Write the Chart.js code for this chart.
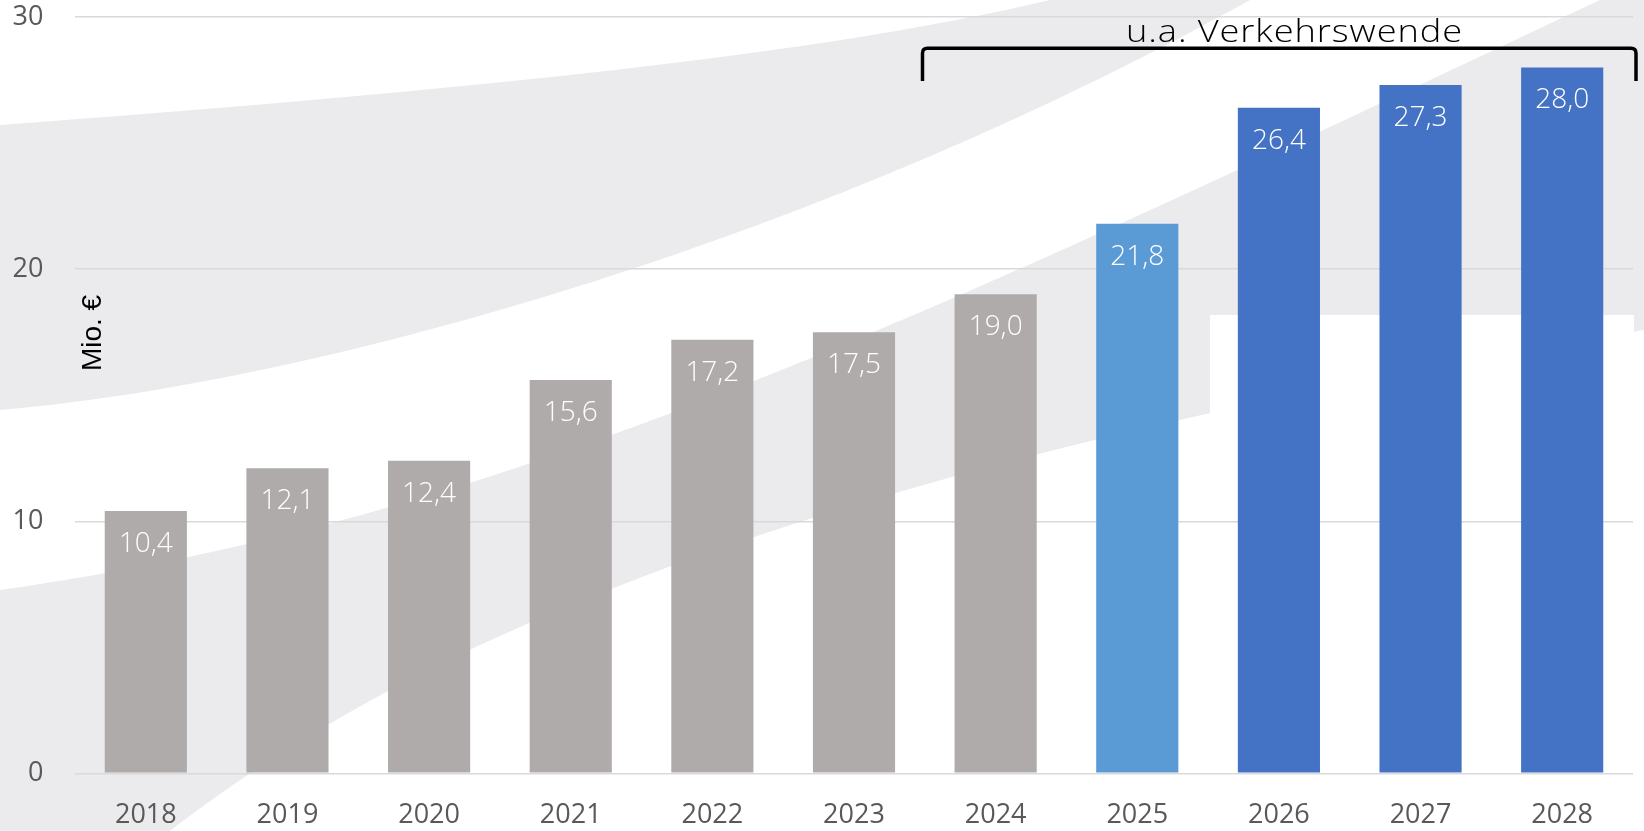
<!DOCTYPE html>
<html>
<head>
<meta charset="utf-8">
<script src="https://cdn.jsdelivr.net/npm/chart.js@4.4.1/dist/chart.umd.min.js"></script>
<style>
  html, body { margin: 0; padding: 0; background: #ffffff; overflow: hidden; }
  #wrap { width: 1644px; height: 831px; position: relative; }
</style>
</head>
<body>
<div id="wrap"><canvas id="c"></canvas></div>
<script>
// ---- data ----
const categories = ['2018', '2019', '2020', '2021', '2022', '2023', '2024', '2025', '2026', '2027', '2028'];
const values = [10.4, 12.1, 12.4, 15.6, 17.2, 17.5, 19.0, 21.8, 26.4, 27.3, 28.0];
const yTicks = [0, 10, 20, 30];
const yTitle = 'Mio. €';
const bracketLabel = 'u.a. Verkehrswende';

// ---- styles ----
const GRAY = '#AFABAB', LIGHTBLUE = '#5B9BD5', BLUE = '#4472C4';
const barColors = categories.map((c, i) => i < 7 ? GRAY : (i === 7 ? LIGHTBLUE : BLUE));
const fmt = v => v.toFixed(1).replace('.', ',');

const bgPlugin = {
  id: 'bg',
  beforeDraw(chart) {
    const ctx = chart.ctx;
    const W = chart.width, H = chart.height;
    ctx.save();
    ctx.fillStyle = '#ffffff';
    ctx.fillRect(0, 0, W, H);
    ctx.fillStyle = '#EBEBEE';
    // upper swoosh
    ctx.beginPath();
    ctx.moveTo(0, 125);
    ctx.bezierCurveTo(400, 95, 800, 60, 1050, 0);
    ctx.lineTo(1250, 0);
    ctx.bezierCurveTo(800, 250, 300, 385, 0, 410);
    ctx.closePath();
    ctx.fill();
    // lower swoosh
    ctx.beginPath();
    ctx.moveTo(0, 590);
    ctx.bezierCurveTo(500, 520, 900, 330, 1600, 0);
    ctx.lineTo(W, 0);
    ctx.lineTo(W, 330);
    ctx.bezierCurveTo(800, 470, 420, 640, 170, H);
    ctx.lineTo(0, H);
    ctx.closePath();
    ctx.fill();
    // white panel on the right
    ctx.fillStyle = '#ffffff';
    ctx.fillRect(1210, 315, 424, H - 315);
    ctx.restore();
  }
};

const decoPlugin = {
  id: 'deco',
  afterDatasetsDraw(chart) {
    const ctx = chart.ctx;
    const meta = chart.getDatasetMeta(0);
    ctx.save();
    ctx.fillStyle = '#ffffff';
    ctx.font = "300 28px 'Open Sans'";
    ctx.textAlign = 'center';
    ctx.textBaseline = 'middle';
    meta.data.forEach((bar, i) => {
      ctx.fillText(fmt(values[i]), bar.x, bar.y + 33);
    });
    ctx.restore();
  },
  afterDraw(chart) {
    const ctx = chart.ctx;
    ctx.save();
    // y axis title, rotated, inside plot
    ctx.translate(93, 333);
    ctx.rotate(-Math.PI / 2);
    ctx.fillStyle = '#000000';
    ctx.font = "28px 'Liberation Sans', Arial, sans-serif";
    ctx.textAlign = 'center';
    ctx.textBaseline = 'middle';
    ctx.fillText(yTitle, 0, 0);
    ctx.restore();

    // bracket
    ctx.save();
    ctx.strokeStyle = '#000000';
    ctx.lineWidth = 3.5;
    ctx.lineJoin = 'round';
    ctx.lineCap = 'butt';
    const xl = 922.5, xr = 1636, yt = 48.3, yb = 81, r = 5;
    ctx.beginPath();
    ctx.moveTo(xl, yb);
    ctx.lineTo(xl, yt + r);
    ctx.quadraticCurveTo(xl, yt, xl + r, yt);
    ctx.lineTo(xr - r, yt);
    ctx.quadraticCurveTo(xr, yt, xr, yt + r);
    ctx.lineTo(xr, yb);
    ctx.stroke();
    ctx.restore();

    // bracket label
    ctx.save();
    ctx.fillStyle = '#000000';
    ctx.font = "300 32px 'Open Sans'";
    ctx.textAlign = 'left';
    ctx.textBaseline = 'alphabetic';
    if ('letterSpacing' in ctx) ctx.letterSpacing = '0.8px';
    const target = 337;
    const w = ctx.measureText(bracketLabel).width;
    const sx = Math.max(0.8, Math.min(1.35, target / w));
    ctx.translate(1294.5 - target / 2, 41.7);
    ctx.scale(sx, 1);
    ctx.fillText(bracketLabel, 0, 0);
    ctx.restore();
  }
};

new Chart(document.getElementById('c'), {
  type: 'bar',
  data: {
    labels: categories,
    datasets: [{
      data: values,
      backgroundColor: barColors,
      borderWidth: 0,
      barPercentage: 0.58,
      categoryPercentage: 1.0
    }]
  },
  options: {
    responsive: true,
    maintainAspectRatio: false,
    animation: false,
    devicePixelRatio: 1,
    layout: { padding: { left: 0, right: 11, top: 17, bottom: 0 } },
    plugins: {
      legend: { display: false },
      tooltip: { enabled: false },
      title: { display: false }
    },
    scales: {
      x: {
        grid: { display: false, drawTicks: false },
        border: { display: false },
        ticks: {
          color: '#595959',
          font: { family: "'Open Sans'", size: 27 },
          padding: 26,
          maxRotation: 0,
          autoSkip: false
        },
        afterFit(scale) { scale.height = 57.7; }
      },
      y: {
        min: 0,
        max: 30,
        afterBuildTicks(scale) { scale.ticks = yTicks.map(v => ({ value: v })); },
        grid: { color: '#D9D9D9', lineWidth: 1.4, drawTicks: false },
        border: { display: false },
        ticks: {
          color: '#595959',
          font: { family: "'Open Sans'", size: 27 },
          padding: 31.5
        },
        afterFit(scale) {
          scale.width = 75;
          scale.paddingTop = 16;
          scale.paddingBottom = 16;
        }
      }
    }
  },
  plugins: [bgPlugin, decoPlugin]
});
</script>
</body>
</html>
